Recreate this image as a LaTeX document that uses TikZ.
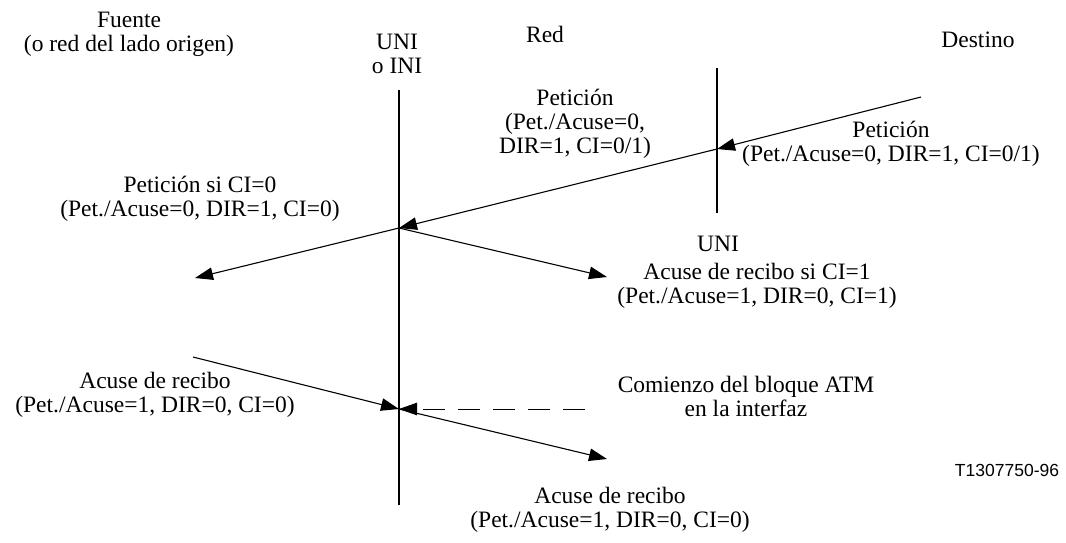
\documentclass[tikz,border=0pt]{standalone}
\usepackage{fontspec}
\setmainfont{Liberation Serif}
\newfontfamily\labelsans{Liberation Sans}
\usetikzlibrary{arrows.meta}
\begin{document}
\begin{tikzpicture}[x=1pt,y=-1pt,
  lbl/.style={align=center,font=\fontsize{23.5}{24}\selectfont,inner sep=0pt},
  wire/.style={line width=1.1pt},
  arr/.style={wire,-{Triangle[length=18pt,width=12.5pt]}}]
\useasboundingbox (0,0) rectangle (1066,542);
% vertical interface lines
\coordinate (v1t) at (399,90);
\coordinate (v1b) at (399,505);
\coordinate (v2t) at (717,68);
\coordinate (v2b) at (717,213);
\draw[wire] (v1t) -- (v1b);
\draw[wire] (v2t) -- (v2b);
% points
\coordinate (dst) at (921,97);
\coordinate (x2) at (717,149);
\coordinate (x1) at (399,228);
\coordinate (src) at (195,278);
\coordinate (ack1) at (607,277);
\coordinate (a0) at (193,357);
\coordinate (x3) at (399,409);
\coordinate (dashs) at (585,409);
\coordinate (ack2) at (607,459);
% request
\draw[arr] (dst) -- (x2);
\draw[arr] (x2) -- (x1);
\draw[arr] (x1) -- (src);
\draw[arr] (x1) -- (ack1);
% acknowledgement
\draw[arr] (a0) -- (x3);
\draw[arr,line width=0.9pt,dash pattern=on 22pt off 13pt] (dashs) -- (x3);
\draw[arr] (x3) -- (ack2);
% labels
\node[lbl] (fuente) at (129,34) {Fuente\\(o red del lado origen)};
\node[lbl] (uni1) at (397,54) {UNI\\o INI};
\node[lbl] (red) at (545,34) {Red};
\node[lbl] (destino) at (978,40) {Destino};
\node[lbl] (pet1) at (575,124) {Petición\\(Pet./Acuse=0,\\DIR=1, CI=0/1)};
\node[lbl] (pet2) at (891,144) {Petición\\(Pet./Acuse=0, DIR=1, CI=0/1)};
\node[lbl] (pet3) at (200,199) {Petición si CI=0\\(Pet./Acuse=0, DIR=1, CI=0)};
\node[lbl] (uni2) at (718,244) {UNI};
\node[lbl] (ackci1) at (757,286) {Acuse de recibo si CI=1\\(Pet./Acuse=1, DIR=0, CI=1)};
\node[lbl] (ackl) at (155,395) {Acuse de recibo\\(Pet./Acuse=1, DIR=0, CI=0)};
\node[lbl] (atm) at (746,396) {Comienzo del bloque ATM\\en la interfaz};
\node[lbl] (ackb) at (610,510) {Acuse de recibo\\(Pet./Acuse=1, DIR=0, CI=0)};
\node[inner sep=0pt,font=\labelsans\fontsize{17.5}{19}\selectfont] (fig) at (1007,470) {T1307750-96};
\end{tikzpicture}
\end{document}
